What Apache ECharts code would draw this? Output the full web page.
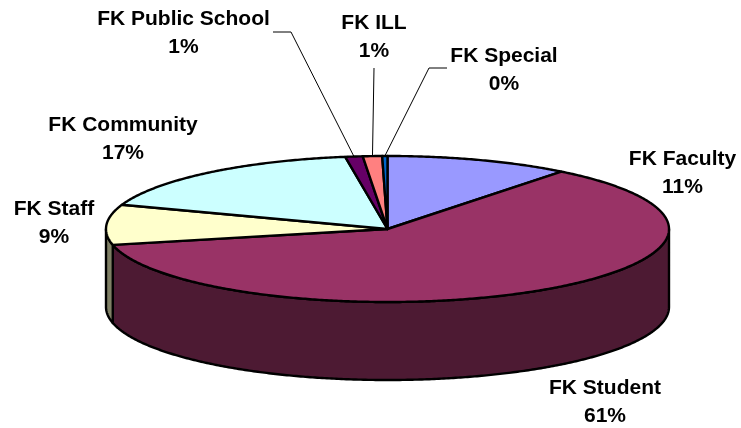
<!DOCTYPE html>
<html>
<head>
<meta charset="utf-8">
<style>
  html, body { margin: 0; padding: 0; background: #fff; }
  #chart { width: 741px; height: 428px; }
</style>
<script src="https://cdn.jsdelivr.net/npm/echarts@6/dist/echarts.min.js"></script>
</head>
<body>
<div id="chart"></div>
<script>
  const categories = ['FK Faculty', 'FK Student', 'FK Staff', 'FK Community', 'FK Public School', 'FK ILL', 'FK Special'];
  const shares = [10.6, 60.9, 8.9, 17.2, 1.0, 1.1, 0.3];
  const topColors = ['#9999ff', '#993366', '#ffffcc', '#ccffff', '#660066', '#ff8080', '#0066cc'];
  const sideColors = ['#4d4d80', '#4d1a33', '#808066', '#668080', '#330033', '#804040', '#003366'];

  // label centre for each slice, and the elbow/start of the leader line if it has one
  const labelPos = [[682.5, 159], [605, 388], [54, 209], [123, 125], [183.5, 19], [374, 23], [504, 56]];
  const leaders = { 4: [[273, 32], [291, 32]], 5: [[374, 68]], 6: [[447, 68], [429, 68]] };

  const pie = { cx: 387.5, cy: 229, rx: 281.5, ry: 73, depth: 78 };
  const total = shares.reduce((a, b) => a + b, 0);

  function rimPoint(deg, drop) {
    const t = deg * Math.PI / 180;
    return [pie.cx + pie.rx * Math.sin(t), pie.cy - pie.ry * Math.cos(t) + (drop || 0)];
  }

  function arcPoints(from, to, drop) {
    const pts = [];
    const steps = Math.max(2, Math.ceil(Math.abs(to - from) * 2));
    for (let i = 0; i <= steps; i++) {
      pts.push(rimPoint(from + (to - from) * i / steps, drop));
    }
    return pts;
  }

  function renderSlice(params, api) {
    const i = params.dataIndex;
    const value = api.value(0);
    let before = 0;
    for (let k = 0; k < i; k++) before += shares[k];
    const start = before / total * 360;
    const end = start + value / total * 360;
    const children = [];
    const edge = { stroke: '#000', lineWidth: 2.4, lineJoin: 'round' };

    // only the front half of the rim shows a wall
    const wallFrom = Math.max(start, 90);
    const wallTo = Math.min(end, 270);
    if (wallFrom < wallTo) {
      const wall = arcPoints(wallFrom, wallTo, 0).concat(arcPoints(wallTo, wallFrom, pie.depth));
      children.push({
        type: 'polygon',
        shape: { points: wall },
        style: Object.assign({ fill: sideColors[i] }, edge)
      });
    }

    children.push({
      type: 'polygon',
      shape: { points: [[pie.cx, pie.cy]].concat(arcPoints(start, end, 0)) },
      style: Object.assign({ fill: topColors[i] }, edge)
    });

    if (leaders[i]) {
      children.push({
        type: 'polyline',
        shape: { points: leaders[i].concat([rimPoint((start + end) / 2, 0)]) },
        style: { fill: null, stroke: '#000', lineWidth: 1 }
      });
    }

    const font = 'bold 21px "Liberation Sans", Arial, sans-serif';
    const pos = labelPos[i];
    children.push({
      type: 'text',
      style: { text: categories[i], x: pos[0], y: pos[1], font: font, fill: '#000', textAlign: 'center', textVerticalAlign: 'middle' }
    });
    children.push({
      type: 'text',
      style: { text: Math.round(value) + '%', x: pos[0], y: pos[1] + 28, font: font, fill: '#000', textAlign: 'center', textVerticalAlign: 'middle' }
    });

    return { type: 'group', children: children };
  }

  const chart = echarts.init(document.getElementById('chart'), null, { renderer: 'canvas' });
  chart.setOption({
    animation: false,
    backgroundColor: '#fff',
    series: [{
      type: 'custom',
      coordinateSystem: 'none',
      renderItem: renderSlice,
      data: shares.map(v => [v])
    }]
  });
</script>
</body>
</html>
